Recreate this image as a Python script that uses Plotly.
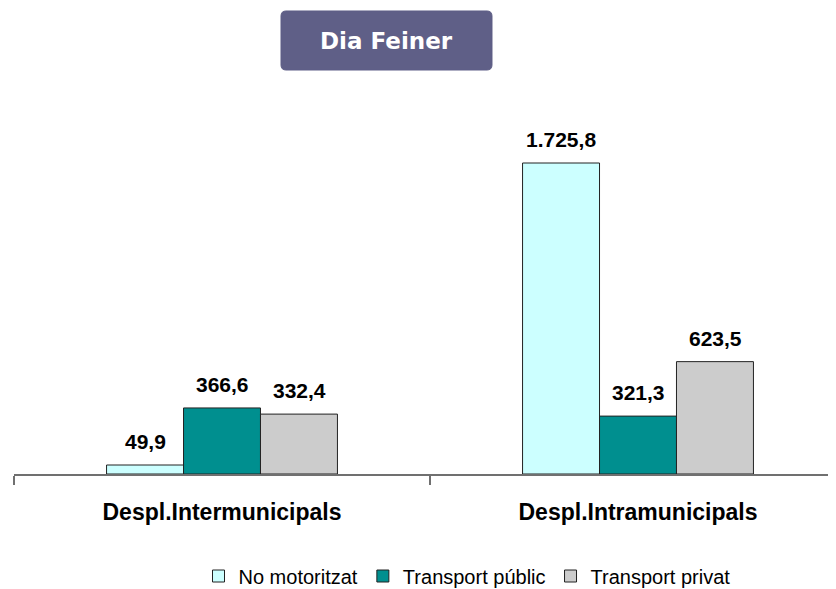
import plotly.graph_objects as go

categories = ["Despl.Intermunicipals", "Despl.Intramunicipals"]
series_names = ["No motoritzat", "Transport públic", "Transport privat"]
no_motoritzat = [49.9, 1725.8]
transport_public = [366.6, 321.3]
transport_privat = [332.4, 623.5]
series_values = [no_motoritzat, transport_public, transport_privat]
colors = ["#CCFFFF", "#008F8F", "#CCCCCC"]

def fmt(v):
    s = f"{v:,.1f}"
    return s.replace(",", "X").replace(".", ",").replace("X", ".")

# page body has an 8px margin; everything is laid out in screen pixels
OFF = 8
W, H = 836, 589
ML = 14 - OFF
MT = 100 - OFF
BASE = 474 - OFF
MB = H - BASE
MR = 0
PW, PH = W - ML - MR, BASE - MT
CAT_W = 416
PX_PER_UNIT = 311 / 1725.8

def px2paper(sx, sy):
    return (sx - OFF - ML) / PW, (BASE - (sy - OFF)) / PH

fig = go.Figure()
for name, vals, col in zip(series_names, series_values, colors):
    fig.add_trace(go.Bar(
        x=categories, y=vals, name=name,
        marker=dict(color=col, line=dict(color="#222222", width=1)),
    ))

# data labels
offsets = [-77, 0, 77]
for vals, off in zip(series_values, offsets):
    for c, v in zip(categories, vals):
        fig.add_annotation(x=c, y=v, text=f"<b>{fmt(v)}</b>", showarrow=False,
                           xref="x", yref="y", xshift=off, yshift=10,
                           yanchor="bottom",
                           font=dict(family="Liberation Sans, Arial", size=21, color="#000000"))

# title box (rounded rect)
x0, y0, x1, y1, r = 281, 11, 492, 70, 5
def P(x, y):
    a, b = px2paper(x, y)
    return f"{a:.5f},{b:.5f}"
path = (f"M {P(x0+r,y0)} L {P(x1-r,y0)} Q {P(x1,y0)} {P(x1,y0+r)} "
        f"L {P(x1,y1-r)} Q {P(x1,y1)} {P(x1-r,y1)} L {P(x0+r,y1)} "
        f"Q {P(x0,y1)} {P(x0,y1-r)} L {P(x0,y0+r)} Q {P(x0,y0)} {P(x0+r,y0)} Z")
fig.add_shape(type="path", path=path, xref="paper", yref="paper",
              fillcolor="#5F5F87", line=dict(color="#5F5F87", width=1))
tx, ty = px2paper((x0 + x1) / 2, (y0 + y1) / 2 + 1)
fig.add_annotation(x=tx, y=ty, xref="paper", yref="paper", text="<b>Dia Feiner</b>",
                   showarrow=False, xanchor="center", yanchor="middle",
                   font=dict(family="DejaVu Sans", size=23, color="#FFFFFF"))

lx, ly = px2paper(467, 576)
fig.update_layout(
    width=W, height=H,
    margin=dict(l=ML, r=MR, t=MT, b=MB),
    paper_bgcolor="white", plot_bgcolor="white",
    barmode="group", bargap=0.445, bargroupgap=0,
    showlegend=True,
    legend=dict(orientation="h", x=lx, xanchor="center",
                y=ly, yanchor="middle",
                font=dict(family="Liberation Sans, Arial", size=20, color="#000000"),
                itemwidth=30, traceorder="normal", tracegroupgap=0),
    xaxis=dict(type="category", range=[-0.5, -0.5 + PW / CAT_W],
               showline=True, linecolor="#707070", linewidth=2,
               ticks="outside", tickson="boundaries", ticklen=9, tickwidth=2,
               tickcolor="#707070", ticklabelstandoff=16,
               tickprefix="<b>", ticksuffix="</b>",
               tickfont=dict(family="Liberation Sans, Arial", size=23, color="#000000"),
               showgrid=False),
    yaxis=dict(range=[0, PH / PX_PER_UNIT], visible=False, showgrid=False),
    font=dict(family="Liberation Sans, Arial"),
)

fig.write_html("out.html")
